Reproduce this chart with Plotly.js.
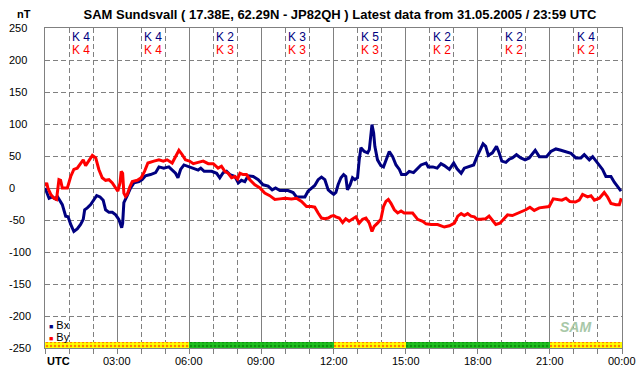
<!DOCTYPE html>
<html><head><meta charset="utf-8">
<script src="https://cdn.plot.ly/plotly-3.0.1.min.js"></script>
<style>html,body{margin:0;padding:0;background:#fff}#chart{width:642px;height:376px}</style>
</head><body><div id="chart"></div>
<script>
// ---- data ----
const bxHours = [0,0.10,0.17,0.30,0.44,0.51,0.62,0.72,0.86,0.96,1.07,1.20,1.34,1.48,1.59,1.65,1.76,1.90,2.04,2.15,2.29,2.42,2.52,2.66,2.80,2.94,3.07,3.19,3.23,3.28,3.42,3.56,3.70,3.91,4.04,4.18,4.39,4.60,4.74,4.94,5.15,5.29,5.43,5.53,5.64,5.78,5.91,6.17,6.37,6.48,6.62,6.93,7.14,7.27,7.41,7.55,7.69,7.90,8.04,8.17,8.31,8.45,8.66,8.87,9.07,9.28,9.45,9.59,9.77,10.11,10.32,10.46,10.81,10.94,11.08,11.22,11.36,11.50,11.64,11.78,11.91,12.01,12.10,12.19,12.31,12.42,12.51,12.58,12.69,12.79,12.89,13.00,13.07,13.14,13.28,13.42,13.49,13.56,13.60,13.67,13.72,13.83,13.97,14.08,14.18,14.32,14.46,14.60,14.74,14.83,15.01,15.15,15.33,15.50,15.64,15.85,15.94,16.13,16.31,16.47,16.61,16.82,17.00,17.14,17.31,17.44,17.65,17.83,17.97,18.06,18.22,18.33,18.44,18.61,18.78,18.89,19.00,19.17,19.31,19.44,19.61,19.79,19.97,20.14,20.39,20.56,20.69,20.86,21.04,21.25,21.46,21.67,21.88,22.08,22.29,22.43,22.64,22.78,22.92,23.06,23.19,23.33,23.54,23.68,23.82,23.96];
const bxValues = [0,-8,-16,-14,-17,-13,-21,-26,-44,-45,-57,-68,-64,-57,-49,-34,-31,-26,-18,-12,-14,-19,-34,-38,-38,-42,-49,-62,-55,-23,-12,0,8,10,13,19,21,24,33,31,33,28,23,16,29,36,34,30,28,31,26,26,23,16,24,26,21,18,8,12,10,19,18,13,5,3,-3,0,-4,-4,-7,-14,-14,-5,0,4,13,17,13,-3,-7,-10,-7,5,16,21,18,-3,5,16,13,16,44,63,57,55,60,83,99,86,65,44,35,33,44,57,49,36,29,21,21,26,24,31,36,39,33,33,31,38,35,29,39,30,23,31,34,36,49,57,69,65,51,55,65,55,42,40,45,47,52,47,44,47,59,49,49,49,57,61,59,56,54,47,47,52,44,49,42,36,29,18,18,9,2,-5];
const byHours = [0,0.07,0.12,0.24,0.37,0.48,0.58,0.65,0.72,0.93,1.07,1.20,1.34,1.48,1.59,1.69,1.83,1.97,2.11,2.24,2.38,2.52,2.66,2.80,2.94,3.03,3.12,3.17,3.23,3.28,3.35,3.42,3.53,3.63,3.84,4.00,4.14,4.28,4.53,4.74,4.92,5.08,5.29,5.43,5.57,5.71,5.84,6.01,6.17,6.37,6.58,6.79,7.00,7.20,7.34,7.48,7.62,7.76,7.90,8.01,8.11,8.24,8.38,8.52,8.73,8.94,9.14,9.35,9.56,9.77,9.98,10.25,10.46,10.67,10.88,11.08,11.22,11.36,11.50,11.64,11.78,11.91,12.01,12.10,12.24,12.38,12.51,12.65,12.79,12.93,13.07,13.21,13.35,13.49,13.60,13.69,13.83,13.97,14.08,14.18,14.28,14.39,14.53,14.67,14.81,14.94,15.29,15.50,15.71,15.85,16.06,16.33,16.61,16.82,17.03,17.17,17.31,17.44,17.58,17.72,17.86,17.97,18.13,18.33,18.47,18.61,18.75,18.92,19.10,19.24,19.44,19.65,19.86,20.00,20.17,20.35,20.56,20.76,20.97,21.14,21.32,21.50,21.67,21.83,22.06,22.22,22.36,22.57,22.71,22.85,23.06,23.26,23.40,23.54,23.75,23.89,23.97];
const byValues = [3,8,0,-10,-16,-18,13,12,0,0,18,29,31,39,44,35,44,51,47,29,16,12,13,8,0,-5,8,26,23,-8,-13,-10,2,10,12,16,26,39,42,44,42,44,39,49,59,52,44,42,38,40,42,38,38,31,34,26,23,16,18,14,23,21,21,13,5,0,-8,-12,-18,-17,-16,-17,-16,-21,-29,-29,-30,-39,-47,-48,-47,-44,-43,-45,-47,-54,-48,-52,-49,-45,-55,-49,-47,-55,-68,-60,-55,-49,-29,-21,-18,-24,-34,-39,-36,-39,-39,-49,-52,-56,-57,-57,-61,-59,-55,-44,-40,-43,-40,-44,-45,-49,-49,-48,-44,-51,-57,-55,-47,-42,-43,-40,-36,-34,-30,-35,-31,-30,-29,-17,-18,-19,-16,-21,-22,-19,-10,-14,-12,-19,-16,-7,-14,-24,-26,-26,-16];
const kBx = [4,4,2,3,5,2,2,4];
const kBy = [4,4,3,3,3,2,2,2];
const yTickVals = [250,200,150,100,50,0,-50,-100,-150,-200,-250];
const xTickVals = [0,3,6,9,12,15,18,21,24];
const xTickText = ['UTC','03:00','06:00','09:00','12:00','15:00','18:00','21:00','00:00'];
const statusStart = [0,6,12,15,21];
const statusEnd = [6,12,15,21,24];
const statusLevel = ['quiet','active','quiet','active','quiet'];

// ---- build ----
const FONT = 'Arial, "Liberation Sans", sans-serif';
const navy = '#000080', red = '#ff0000', grid = '#808080';
const bandBg = statusLevel.map(s => s === 'quiet' ? '#ffff00' : '#20c020');
const bandFg = statusLevel.map(s => s === 'quiet' ? '#ff0000' : '#006000');
const bandX = statusStart.map((s,i)=> (s+statusEnd[i])/2);
const bandW = statusStart.map((s,i)=> statusEnd[i]-s);

const traces = [
  {type:'bar', x: bandX, width: bandW, y: statusStart.map(()=>9), base: -250, hoverinfo:'skip', showlegend:false,
   marker:{color: bandBg, line:{width:0}}},
  {type:'bar', x: bandX, width: bandW, y: statusStart.map(()=>9), base: -250, hoverinfo:'skip', showlegend:false,
   marker:{color: 'rgba(0,0,0,0)', line:{width:0},
     pattern:{shape: '.', fgcolor: bandFg, bgcolor: 'rgba(0,0,0,0)', size: 4, solidity: 0.3, fillmode:'overlay'}}},
  {type:'scatter', mode:'lines', x: bxHours, y: bxValues, line:{color:navy, width:3}, name:'Bx', showlegend:false},
  {type:'scatter', mode:'lines', x: byHours, y: byValues, line:{color:red, width:3}, name:'By', showlegend:false}
];

const ann = [];
const W = 577, H = 320;
yTickVals.forEach(v => ann.push({xref:'paper', yref:'y', x:(7-45)/W, y:v, xanchor:'left', yanchor:'middle',
  text:String(v), showarrow:false, font:{family:FONT, size:11, color:'#000'}}));
xTickVals.forEach((v,i) => ann.push({xref:'x', yref:'paper', x:v, y:(348-361)/H, xanchor: i===0?'left':'center', yanchor:'middle',
  text: i===0 ? '<b>'+xTickText[i]+'</b>' : xTickText[i], showarrow:false, font:{family:FONT, size:11, color:'#000'}}));
kBx.forEach((k,i) => ann.push({xref:'x', yref:'paper', x:1.5+3*i, y:(348-37)/H, xanchor:'center', yanchor:'middle',
  text:'K '+k, showarrow:false, font:{family:FONT, size:12, color:navy}}));
kBy.forEach((k,i) => ann.push({xref:'x', yref:'paper', x:1.5+3*i, y:(348-50)/H, xanchor:'center', yanchor:'middle',
  text:'K '+k, showarrow:false, font:{family:FONT, size:12, color:red}}));
ann.push({xref:'paper', yref:'paper', x:(15-45)/W, y:(348-14)/H, xanchor:'left', yanchor:'middle', text:'<b>nT</b>',
  showarrow:false, font:{family:FONT, size:11, color:'#000'}});
ann.push({xref:'paper', yref:'paper', x:(47-45)/W, y:(348-325)/H, xanchor:'left', yanchor:'middle',
  text:'<span style="color:'+navy+';font-size:7px">■</span> Bx', showarrow:false, font:{family:FONT, size:11, color:'#000'}});
ann.push({xref:'paper', yref:'paper', x:(47-45)/W, y:(348-337)/H, xanchor:'left', yanchor:'middle',
  text:'<span style="color:'+red+';font-size:7px">■</span> By', showarrow:false, font:{family:FONT, size:11, color:'#000'}});
ann.push({xref:'paper', yref:'paper', x:(575-45)/W, y:(348-327)/H, xanchor:'center', yanchor:'middle',
  text:'<i><b>SAM</b></i>', showarrow:false, font:{family:FONT, size:14, color:'#a8c8a8'}});

const layout = {
  width:642, height:376, margin:{l:45, r:20, t:28, b:28},
  paper_bgcolor:'#fff', plot_bgcolor:'#fff', showlegend:false, bargap:0, barmode:'overlay',
  title:{text:'<b>SAM Sundsvall ( 17.38E, 62.29N - JP82QH ) Latest data from 31.05.2005 / 23:59 UTC</b>',
    x:340/642, xanchor:'center', y:1-14/376, yanchor:'middle', font:{family:FONT, size:13, color:'#000'}},
  xaxis:{range:[0,24], tick0:0, dtick:3, showgrid:true, gridcolor:grid, gridwidth:1, zeroline:false,
    ticks:'outside', ticklen:5, tickcolor:grid, tickwidth:1, showticklabels:false,
    showline:true, linecolor:grid, linewidth:1, mirror:true,
    minor:{dtick:1, tick0:0, showgrid:true, gridcolor:grid, gridwidth:1, griddash:'5px,3px', ticks:'outside', ticklen:5, tickcolor:grid}},
  yaxis:{range:[-250,250], tick0:0, dtick:50, showgrid:true, gridcolor:grid, gridwidth:1, griddash:'5px,3px',
    zeroline:true, zerolinecolor:grid, zerolinewidth:1, showticklabels:false, ticks:'',
    showline:true, linecolor:grid, linewidth:1, mirror:true},
  annotations: ann
};
Plotly.newPlot('chart', traces, layout, {staticPlot:true, displayModeBar:false});
</script></body></html>
